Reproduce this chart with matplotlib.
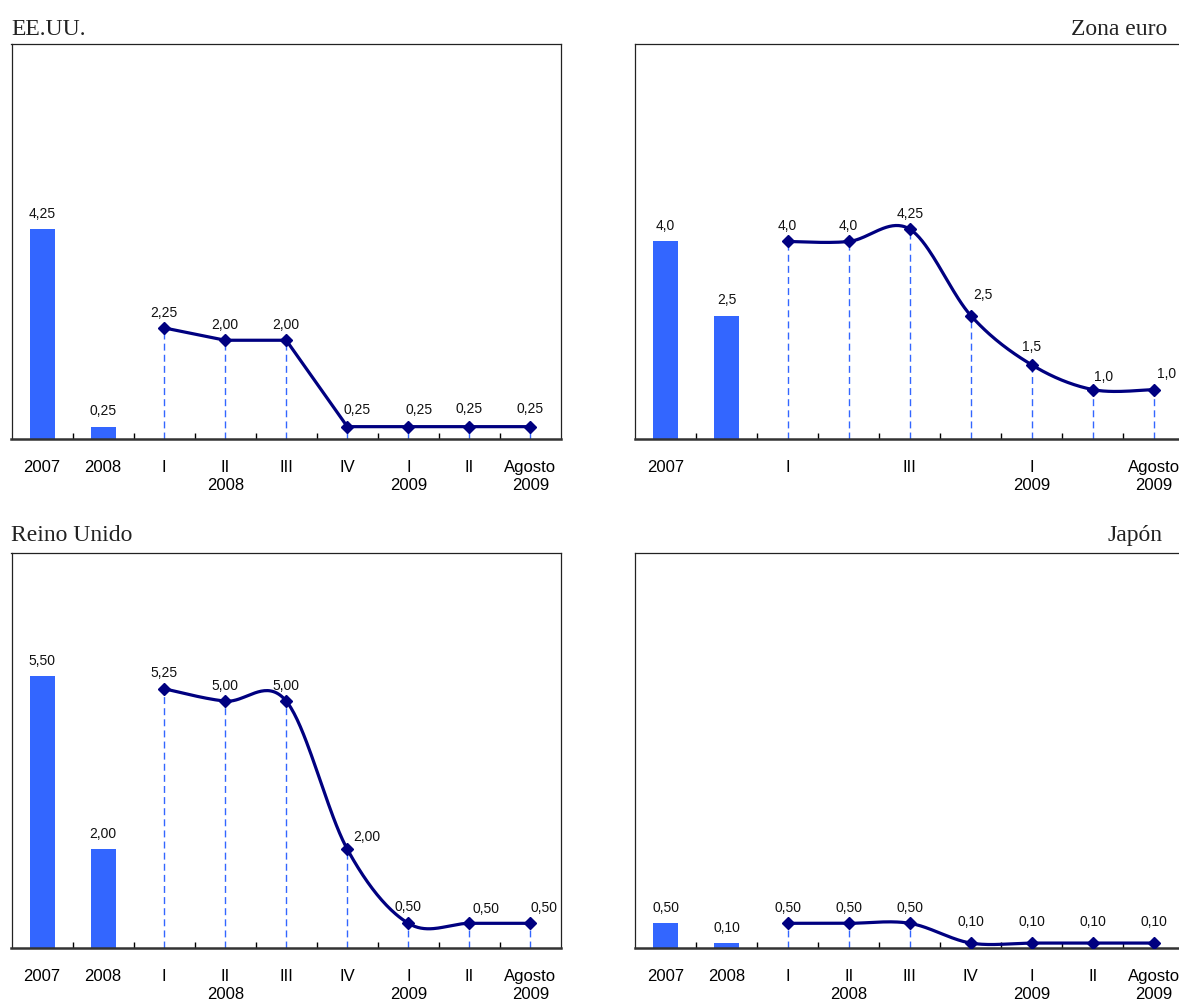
"""Tipos de interés oficiales: EE.UU., zona euro, Reino Unido y Japón."""

import matplotlib

matplotlib.use("Agg")
import matplotlib.pyplot as plt
import numpy as np

BAR_COLOR = "#3366FF"
LINE_COLOR = "#000080"
DASH_COLOR = "#3366FF"
FIG_W, FIG_H = 1179, 1006

# Datos
bar_years = ["2007", "2008"]
quarters = ["I", "II\n2008", "III", "IV", "I\n2009", "II", "Agosto\n2009"]

usa_bars = [4.25, 0.25]
usa_line = [2.25, 2.00, 2.00, 0.25, 0.25, 0.25, 0.25]
usa_labels = ["4,25", "0,25", "2,25", "2,00", "2,00", "0,25", "0,25", "0,25", "0,25"]

euro_bars = [4.0, 2.5]
euro_line = [4.0, 4.0, 4.25, 2.5, 1.5, 1.0, 1.0]
euro_labels = ["4,0", "2,5", "4,0", "4,0", "4,25", "2,5", "1,5", "1,0", "1,0"]
euro_ticks = ["2007", "", "I", "", "III", "", "I\n2009", "", "Agosto\n2009"]

uk_bars = [5.50, 2.00]
uk_line = [5.25, 5.00, 5.00, 2.00, 0.50, 0.50, 0.50]
uk_labels = ["5,50", "2,00", "5,25", "5,00", "5,00", "2,00", "0,50", "0,50", "0,50"]

jp_bars = [0.50, 0.10]
jp_line = [0.50, 0.50, 0.50, 0.10, 0.10, 0.10, 0.10]
jp_labels = ["0,50", "0,10", "0,50", "0,50", "0,50", "0,10", "0,10", "0,10", "0,10"]

default_ticks = bar_years + quarters

# label offsets in points (dx, dy) for the 9 values of each panel
usa_offsets = [(0, 6)] * 5 + [(7, 7), (8, 7), (0, 8), (0, 8)]
euro_offsets = [(0, 6)] * 5 + [(9, 10), (0, 8), (8, 4), (9, 6)]
uk_offsets = [(0, 6)] * 5 + [(14, 4), (0, 7), (12, 5), (10, 6)]
jp_offsets = [(0, 6)] * 5 + [(0, 10)] * 4

plt.rcParams["font.family"] = ["Liberation Sans", "DejaVu Sans"]


def _smooth(xs, ys, n=40):
    """Excel-style smoothed line (Bezier through the points)."""
    pts = np.column_stack([xs, ys]).astype(float)
    out = []
    for i in range(len(pts) - 1):
        p0 = pts[max(i - 1, 0)]
        p1 = pts[i]
        p2 = pts[i + 1]
        p3 = pts[min(i + 2, len(pts) - 1)]
        c1 = p1 + (p2 - p0) / 6
        c2 = p2 - (p3 - p1) / 6
        t = np.linspace(0, 1, n)[:, None]
        seg = (
            (1 - t) ** 3 * p1
            + 3 * (1 - t) ** 2 * t * c1
            + 3 * (1 - t) * t**2 * c2
            + t**3 * p2
        )
        out.append(seg if i == 0 else seg[1:])
    return np.vstack(out)


def draw_panel(fig, rect, bars, line, labels, ticks, offsets, smooth=True):
    ax = fig.add_axes(rect)
    bar_x = np.arange(len(bars))
    line_x = np.arange(len(bars), len(bars) + len(line))

    ax.bar(bar_x, bars, width=0.41, color=BAR_COLOR, zorder=2)
    ax.vlines(
        line_x, 0, line, colors=DASH_COLOR, linestyles=(0, (5, 3)),
        linewidth=1.0, zorder=1,
    )
    if smooth:
        curve = _smooth(line_x, line)
        ax.plot(curve[:, 0], curve[:, 1], color=LINE_COLOR, lw=2.3, zorder=3)
    else:
        ax.plot(line_x, line, color=LINE_COLOR, lw=2.3, zorder=3)
    ax.plot(line_x, line, linestyle="none", marker="D", markersize=6,
            color=LINE_COLOR, zorder=4)

    xs = list(bar_x) + list(line_x)
    ys = list(bars) + list(line)
    for x, y, text, (dx, dy) in zip(xs, ys, labels, offsets):
        ax.annotate(
            text, (x, y), xytext=(dx, dy), textcoords="offset points",
            ha="center", va="bottom", fontsize=10, color="#111111",
        )

    n = len(xs)
    ax.set_xlim(-0.5, n - 0.5)
    ax.set_ylim(0, 8)
    ax.set_yticks([])
    ax.set_xticks(np.arange(n))
    ax.set_xticklabels(ticks, fontsize=12, linespacing=1.3)
    ax.set_xticks(np.arange(n - 1) + 0.5, minor=True)
    ax.tick_params(axis="x", which="major", length=0, pad=15)
    ax.tick_params(axis="x", which="minor", direction="in", length=4,
                   width=1, color="black")

    for side in ("left", "top", "right"):
        ax.spines[side].set_linewidth(0.9)
        ax.spines[side].set_color("#222222")
    ax.spines["bottom"].set_linewidth(1.8)
    ax.spines["bottom"].set_color("#333333")
    return ax


fig = plt.figure(figsize=(FIG_W / 100, FIG_H / 100), dpi=100)

panel_w = 549.5 / FIG_W
panel_h = 395 / FIG_H
left_x = 11.5 / FIG_W
right_x = 635 / FIG_W
top_y = (FIG_H - 439) / FIG_H
bottom_y = (FIG_H - 948) / FIG_H

draw_panel(fig, [left_x, top_y, panel_w, panel_h], usa_bars, usa_line,
           usa_labels, default_ticks, usa_offsets, smooth=False)
draw_panel(fig, [right_x, top_y, panel_w, panel_h], euro_bars, euro_line,
           euro_labels, euro_ticks, euro_offsets)
draw_panel(fig, [left_x, bottom_y, panel_w, panel_h], uk_bars, uk_line,
           uk_labels, default_ticks, uk_offsets)
draw_panel(fig, [right_x, bottom_y, panel_w, panel_h], jp_bars, jp_line,
           jp_labels, default_ticks, jp_offsets)

title_font = {"family": ["Liberation Serif", "DejaVu Serif"], "fontsize": 17,
              "color": "#222222", "va": "baseline"}
fig.text(11 / FIG_W, 1 - 35 / FIG_H, "EE.UU.", ha="left", **title_font)
fig.text(1167 / FIG_W, 1 - 35 / FIG_H, "Zona euro", ha="right", **title_font)
fig.text(11 / FIG_W, 1 - 541 / FIG_H, "Reino Unido", ha="left", **title_font)
fig.text(1163 / FIG_W, 1 - 541 / FIG_H, "Japón", ha="right", **title_font)

fig.savefig("out.png", dpi=100)
